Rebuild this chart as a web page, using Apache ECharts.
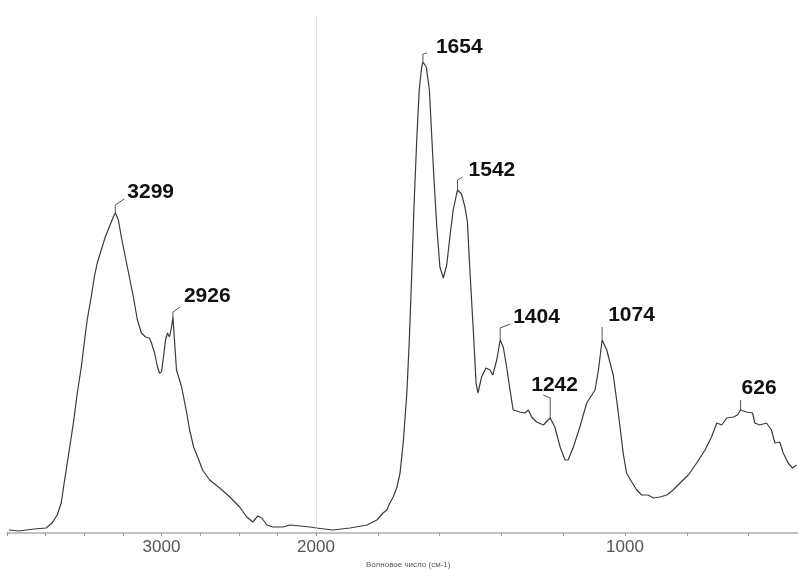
<!DOCTYPE html>
<html>
<head>
<meta charset="utf-8">
<script src="https://cdn.jsdelivr.net/npm/echarts@6/dist/echarts.min.js"></script>
<style>
  html, body { margin: 0; padding: 0; background: #fff; }
  #chart { width: 798px; height: 570px; }
</style>
</head>
<body>
<div id="chart"></div>
<script>
// ИК-спектр: шкала сжата вдвое выше 2000 см-1
const leftWn = [3987, 3922, 3825, 3747, 3708, 3675, 3649, 3630, 3610, 3584, 3565, 3545, 3519, 3500, 3481, 3455, 3435, 3416, 3390, 3364, 3338, 3312, 3299, 3279, 3260, 3234, 3208, 3182, 3156, 3130, 3104, 3078, 3065, 3045, 3026, 3013, 3000, 2987, 2974, 2961, 2948, 2935, 2926, 2916, 2903, 2883, 2870, 2857, 2838, 2818, 2792, 2766, 2734, 2688, 2623, 2558, 2494, 2448, 2409, 2377, 2351, 2318, 2279, 2214, 2169, 2104, 2039, 2000];
const leftAbs = [0.6, 0.4, 0.8, 1.0, 2.0, 3.6, 6.0, 10.0, 14.0, 19.2, 23.2, 28.0, 33.2, 38.0, 42.6, 47.2, 51.2, 54.0, 56.6, 59.2, 61.2, 63.2, 64.0, 62.6, 59.2, 55.2, 51.2, 47.2, 42.6, 40.0, 39.2, 39.0, 38.0, 36.0, 33.2, 32.0, 32.2, 35.2, 38.6, 40.0, 39.2, 41.2, 43.2, 38.6, 32.6, 30.6, 29.2, 27.2, 24.2, 20.6, 17.2, 15.2, 12.6, 10.6, 9.0, 7.2, 5.2, 3.2, 2.2, 3.4, 3.0, 1.6, 1.2, 1.2, 1.6, 1.4, 1.2, 1.0];

const rightWn = [2000, 1945, 1890, 1835, 1803, 1783, 1771, 1761, 1750, 1738, 1728, 1717, 1706, 1698, 1690, 1683, 1674, 1666, 1658, 1654, 1643, 1633, 1626, 1618, 1609, 1599, 1588, 1577, 1566, 1556, 1545, 1542, 1529, 1518, 1510, 1502, 1491, 1482, 1476, 1464, 1450, 1437, 1428, 1415, 1404, 1394, 1383, 1372, 1362, 1340, 1324, 1313, 1302, 1286, 1264, 1249, 1242, 1227, 1210, 1194, 1184, 1167, 1146, 1124, 1097, 1086, 1074, 1059, 1049, 1038, 1027, 1016, 1006, 995, 978, 962, 946, 925, 908, 887, 865, 844, 822, 795, 768, 741, 720, 703, 687, 671, 649, 636, 626, 607, 587, 580, 564, 542, 526, 515, 499, 488, 472, 458, 445];
const rightAbs = [1.0, 0.6, 1.0, 1.6, 2.6, 4.0, 4.6, 6.0, 7.2, 9.2, 12.0, 18.6, 28.0, 38.6, 52.0, 65.2, 78.6, 88.6, 93.2, 94.2, 93.2, 88.6, 80.0, 70.6, 61.2, 53.2, 51.0, 53.6, 59.6, 64.6, 67.8, 68.6, 67.8, 65.2, 62.2, 52.6, 40.6, 30.0, 28.0, 31.2, 33.0, 32.6, 31.6, 34.6, 38.6, 37.2, 33.2, 28.6, 24.6, 24.2, 24.0, 24.6, 23.2, 22.2, 21.6, 22.6, 23.0, 21.2, 17.2, 14.6, 14.6, 17.2, 21.2, 26.0, 28.6, 32.6, 38.6, 36.6, 34.2, 31.6, 26.6, 21.2, 16.0, 12.0, 10.2, 8.6, 7.6, 7.6, 7.0, 7.2, 7.6, 8.6, 10.0, 11.6, 14.0, 16.6, 19.2, 22.0, 21.6, 23.0, 23.2, 23.6, 24.6, 24.2, 24.0, 22.0, 21.6, 22.0, 20.6, 18.0, 18.2, 16.0, 14.0, 13.0, 13.6];

const peakWn = [3299, 2926, 1654, 1542, 1404, 1242, 1074, 626];
const xTickLabels = [3000, 2000, 1000];
const axisTitle = 'Волновое число (см-1)';

// выноски подписей пиков (смещения в px от вершины)
const leaders = {
  3299: { pts: [[0, -8], [9, -14]], txt: [12, -21] },
  2926: { pts: [[0, -5], [7, -10]], txt: [11, -21] },
  1654: { pts: [[0, -8], [4, -9]], txt: [13, -15] },
  1542: { pts: [[0, -10], [5, -13]], txt: [11, -20] },
  1404: { pts: [[0, -12], [10, -16]], txt: [13, -23] },
  1242: { pts: [[0, -20], [-7, -23]], txt: [-19, -33] },
  1074: { pts: [[0, -13]], txt: [6, -25] },
  626: { pts: [[0, -10]], txt: [1, -22] }
};

const pairs = (wn, ab) => wn.map((w, i) => [w, ab[i]]);
const leftData = pairs(leftWn, leftAbs);
const rightData = pairs(rightWn, rightAbs);
const peakVal = w => {
  const i = leftWn.indexOf(w);
  return i >= 0 ? leftAbs[i] : rightAbs[rightWn.indexOf(w)];
};
const leftPeaks = peakWn.filter(w => w > 2000).map(w => [w, peakVal(w)]);
const rightPeaks = peakWn.filter(w => w < 2000).map(w => [w, peakVal(w)]);

const lineColor = '#3a3a3a';
const axisCommon = {
  type: 'value',
  inverse: true,
  axisLine: { show: true, lineStyle: { color: '#b0b0b0', width: 1.5 } },
  axisTick: { show: true, length: 3, lineStyle: { color: '#999' } },
  splitLine: { show: false },
  axisLabel: {
    color: '#555', fontSize: 17, fontFamily: 'Liberation Sans, Arial, sans-serif', margin: 6,
    showMinLabel: true, showMaxLabel: true
  }
};

function renderPeak(params, api) {
  const w = api.value(0);
  const p = api.coord([w, api.value(1)]);
  const l = leaders[w];
  const pts = [p].concat(l.pts.map(d => [p[0] + d[0], p[1] + d[1]]));
  return {
    type: 'group',
    children: [
      { type: 'polyline', shape: { points: pts }, style: { stroke: '#555', lineWidth: 1, fill: null } },
      {
        type: 'text', x: p[0] + l.txt[0], y: p[1] + l.txt[1],
        style: {
          text: String(w), fill: '#111',
          font: 'bold 21px "Liberation Sans", Arial, sans-serif',
          align: 'left', verticalAlign: 'middle',
          textAlign: 'left', textVerticalAlign: 'middle'
        }
      }
    ]
  };
}

const chart = echarts.init(document.getElementById('chart'));
chart.setOption({
  animation: false,
  backgroundColor: '#fff',
  title: {
    text: axisTitle, left: 366, top: 561, padding: 0,
    textStyle: { fontSize: 8, fontWeight: 'normal', color: '#555', fontFamily: 'Liberation Sans, Arial, sans-serif' }
  },
  grid: [
    { left: 7, width: 309, top: 15, bottom: 37, outerBoundsMode: 'none', containLabel: false },
    { left: 316, width: 494.4, top: 15, bottom: 37, outerBoundsMode: 'none', containLabel: false }
  ],
  xAxis: [
    Object.assign({}, axisCommon, {
      gridIndex: 0, min: 2000, max: 4000, interval: 250,
      axisLabel: Object.assign({}, axisCommon.axisLabel, {
        formatter: v => (v !== 2000 && xTickLabels.includes(v)) ? String(v) : ''
      })
    }),
    Object.assign({}, axisCommon, {
      gridIndex: 1, min: 400, max: 2000, interval: 200,
      axisLabel: Object.assign({}, axisCommon.axisLabel, {
        formatter: v => xTickLabels.includes(v) ? String(v) : ''
      })
    })
  ],
  yAxis: [
    { type: 'value', gridIndex: 0, min: 0, max: 103.6, show: false },
    { type: 'value', gridIndex: 1, min: 0, max: 103.6, show: false }
  ],
  series: [
    {
      type: 'line', xAxisIndex: 0, yAxisIndex: 0, data: leftData,
      showSymbol: false, symbol: 'none',
      lineStyle: { color: lineColor, width: 1.2 }
    },
    {
      type: 'line', xAxisIndex: 1, yAxisIndex: 1, data: rightData,
      showSymbol: false, symbol: 'none',
      lineStyle: { color: lineColor, width: 1.2 },
      markLine: {
        symbol: 'none', silent: true, label: { show: false },
        lineStyle: { type: 'dotted', color: '#c4c4c4', width: 1 },
        data: [{ xAxis: 2000 }]
      }
    },
    { type: 'custom', xAxisIndex: 0, yAxisIndex: 0, data: leftPeaks, renderItem: renderPeak, clip: false, z: 5 },
    { type: 'custom', xAxisIndex: 1, yAxisIndex: 1, data: rightPeaks, renderItem: renderPeak, clip: false, z: 5 }
  ]
});
</script>
</body>
</html>
